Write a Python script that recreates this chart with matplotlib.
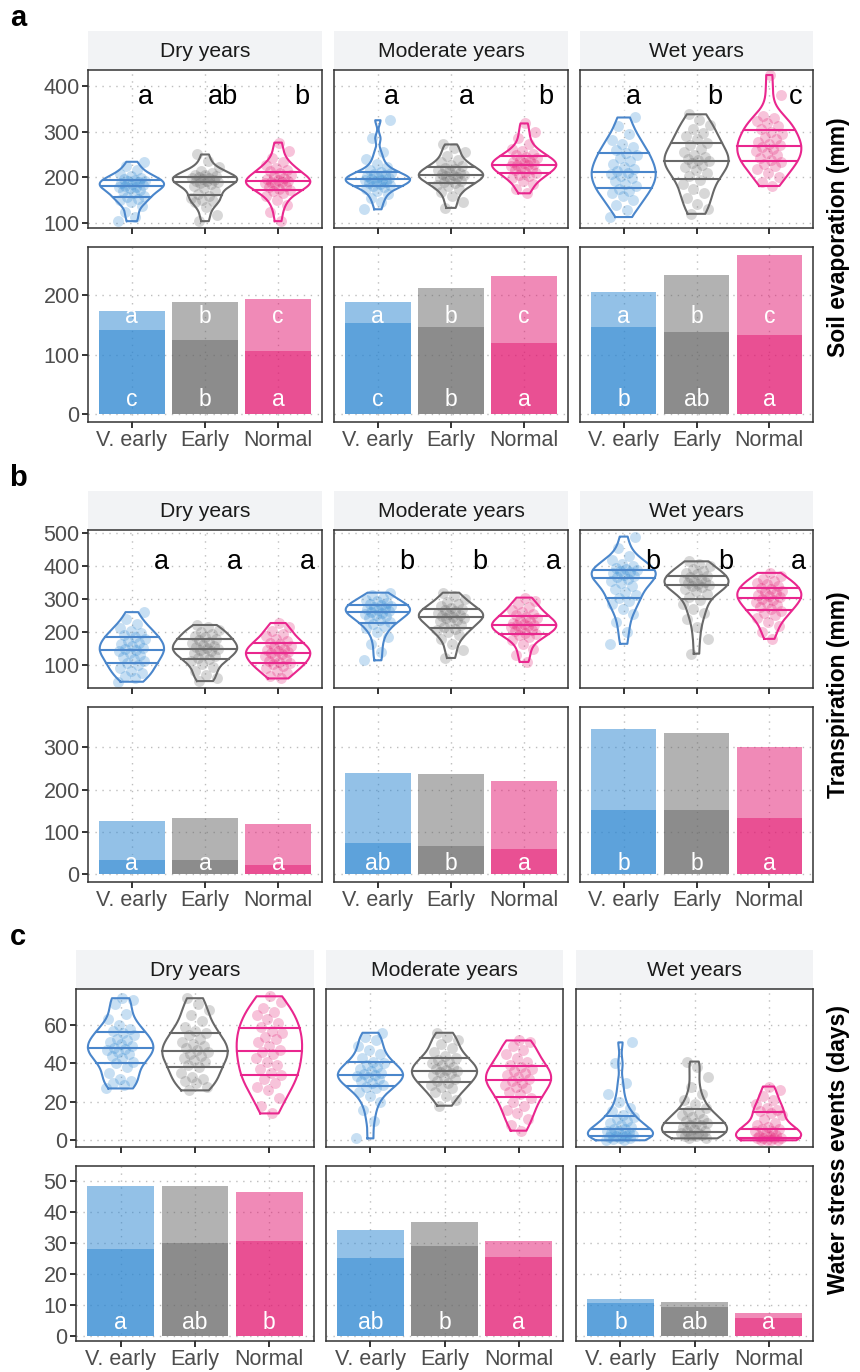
import numpy as np
import matplotlib.pyplot as plt
from matplotlib.ticker import FixedLocator

plt.rcParams['font.family'] = ['Liberation Sans', 'DejaVu Sans']

groups = ['V. early', 'Early', 'Normal']
climates = ['Dry years', 'Moderate years', 'Wet years']

# ---- soil evaporation (mm), one list per sowing group ----
evap_dry = [
    [104, 112, 125, 138, 145, 150, 153, 156, 160, 165, 170, 173, 176, 178, 179, 181, 183, 185, 187, 189, 191, 193, 195, 197, 199, 203, 208, 215, 224, 234],
    [104, 118, 135, 145, 148, 151, 155, 160, 163, 170, 177, 182, 186, 188, 189, 191, 193, 195, 196, 198, 199, 201, 202, 204, 206, 209, 214, 222, 235, 250],
    [104, 125, 140, 150, 158, 165, 170, 172, 175, 179, 182, 185, 187, 189, 190, 192, 194, 196, 199, 202, 206, 209, 213, 217, 221, 226, 233, 243, 258, 276],
]
evap_mod = [
    [130, 145, 155, 163, 170, 175, 178, 181, 184, 186, 188, 190, 192, 194, 195, 196, 198, 200, 202, 204, 207, 209, 212, 216, 222, 230, 240, 255, 285, 325],
    [133, 145, 158, 167, 174, 180, 184, 187, 190, 193, 196, 199, 201, 203, 204, 206, 208, 210, 213, 215, 218, 221, 224, 228, 233, 239, 246, 255, 264, 272],
    [165, 175, 185, 192, 198, 202, 206, 209, 212, 215, 218, 221, 224, 226, 227, 229, 231, 233, 236, 239, 242, 245, 248, 252, 257, 263, 272, 285, 300, 318],
]
evap_wet = [
    [113, 128, 140, 150, 158, 165, 170, 175, 180, 186, 192, 198, 203, 207, 210, 214, 218, 223, 229, 236, 242, 248, 254, 260, 266, 273, 282, 295, 312, 331],
    [120, 130, 142, 155, 165, 175, 185, 195, 203, 210, 217, 223, 228, 232, 235, 237, 240, 244, 249, 255, 262, 270, 276, 283, 290, 298, 306, 315, 326, 338],
    [181, 190, 200, 210, 218, 225, 230, 234, 238, 243, 248, 253, 258, 263, 266, 270, 274, 278, 283, 288, 294, 300, 306, 312, 318, 324, 330, 335, 380, 424],
]
evap_total = [[174, 188, 194], [188, 212, 232], [205, 234, 267]]
evap_lower = [[142, 125, 106], [153, 146, 119], [146, 139, 133]]
evap_violin_letters = [['a', 'ab', 'b'], ['a', 'a', 'b'], ['a', 'b', 'c']]
evap_top_letters = [['a', 'b', 'c'], ['a', 'b', 'c'], ['a', 'b', 'c']]
evap_bottom_letters = [['c', 'b', 'a'], ['c', 'b', 'a'], ['b', 'ab', 'a']]

# ---- transpiration (mm) ----
transp_dry = [
    [50, 60, 68, 76, 84, 92, 100, 106, 112, 118, 125, 131, 137, 142, 146, 149, 153, 158, 163, 168, 174, 180, 186, 192, 198, 205, 213, 224, 240, 261],
    [52, 60, 70, 82, 95, 105, 113, 118, 123, 128, 133, 138, 142, 146, 149, 151, 154, 158, 162, 166, 171, 176, 180, 185, 190, 196, 202, 208, 215, 222],
    [60, 68, 76, 84, 92, 98, 103, 106, 110, 114, 119, 124, 129, 133, 136, 139, 142, 146, 150, 154, 158, 163, 168, 173, 180, 188, 196, 205, 216, 228],
]
transp_mod = [
    [115, 140, 165, 185, 200, 212, 220, 226, 232, 238, 243, 248, 253, 256, 259, 261, 264, 267, 270, 273, 276, 279, 282, 285, 289, 294, 299, 305, 312, 320],
    [122, 145, 165, 180, 192, 200, 206, 211, 216, 222, 228, 233, 238, 242, 244, 246, 249, 252, 256, 259, 263, 266, 270, 274, 279, 285, 292, 300, 310, 320],
    [110, 130, 150, 165, 177, 185, 191, 195, 199, 203, 207, 211, 215, 218, 221, 223, 226, 229, 233, 237, 242, 246, 251, 256, 262, 268, 276, 285, 295, 305],
]
transp_wet = [
    [165, 200, 230, 255, 272, 285, 295, 303, 312, 322, 332, 341, 349, 356, 362, 367, 371, 375, 379, 382, 385, 388, 391, 395, 400, 408, 418, 432, 455, 490],
    [135, 180, 215, 240, 258, 272, 285, 297, 308, 317, 325, 331, 336, 340, 343, 346, 349, 352, 355, 358, 362, 366, 371, 376, 381, 387, 393, 400, 407, 415],
    [180, 200, 218, 232, 243, 252, 259, 265, 271, 277, 283, 288, 293, 298, 302, 306, 310, 314, 318, 322, 326, 330, 335, 340, 345, 350, 356, 362, 370, 380],
]
transp_total = [[127, 132, 120], [239, 237, 220], [343, 333, 300]]
transp_lower = [[34, 34, 22], [75, 68, 60], [153, 153, 134]]
transp_violin_letters = [['a', 'a', 'a'], ['b', 'b', 'a'], ['b', 'b', 'a']]
transp_bottom_letters = [['a', 'a', 'a'], ['ab', 'b', 'a'], ['b', 'b', 'a']]

# ---- water stress events (days) ----
stress_dry = [
    [27, 29, 30, 31, 32, 35, 38, 40, 41, 43, 44, 45, 46, 47, 47.5, 48, 49, 50, 51, 52, 53, 55, 56, 57, 58, 60, 63, 66, 71, 73, 74],
    [26, 28, 30, 31, 32, 33, 35, 38, 39, 41, 42, 43, 44, 45, 46, 47, 48, 49, 50, 51, 53, 55, 56, 57, 59, 62, 65, 68, 71, 74],
    [14, 18, 22, 26, 28, 30, 32, 34, 35, 37, 39, 41, 43, 45, 46, 47, 49, 51, 53, 54, 56, 57, 59, 61, 63, 65, 67, 69, 72, 75],
]
stress_mod = [
    [1, 10, 16, 20, 23, 25, 27, 28, 29, 30, 31, 32, 33, 33.5, 34, 34.5, 35, 36, 37, 38, 39, 40, 41, 43, 45, 47, 49, 52, 54, 56],
    [18, 21, 23, 25, 27, 28, 29, 30, 31, 32, 33, 34, 35, 35.5, 36, 36.5, 37, 38, 39, 40, 41, 42, 43, 44, 46, 48, 50, 52, 54, 56],
    [5, 8, 11, 14, 16, 18, 20, 22, 24, 25, 27, 28, 29, 30, 31, 32, 33, 34, 35, 36, 37, 38, 39, 41, 43, 45, 47, 49, 51, 52],
]
stress_wet = [
    [0, 0, 0.5, 1, 1, 1.5, 2, 2, 3, 3, 4, 4, 5, 5, 6, 6, 7, 8, 9, 10, 11, 12, 13, 15, 17, 20, 24, 30, 40, 51],
    [1, 1, 2, 2, 3, 3, 4, 4, 5, 5, 6, 7, 8, 8, 9, 9, 10, 11, 12, 13, 14, 15, 17, 19, 21, 24, 28, 33, 38, 41],
    [0, 0, 0, 0, 1, 1, 1, 1, 2, 2, 3, 4, 5, 5, 6, 6, 7, 8, 9, 11, 13, 14, 15, 16, 17, 19, 21, 23, 26, 28],
]
stress_total = [[48.6, 48.3, 46.4], [34.2, 36.7, 30.7], [11.8, 10.9, 7.3]]
stress_lower = [[28.1, 30.0, 30.8], [25.3, 29.0, 25.6], [10.6, 9.4, 5.9]]
stress_bottom_letters = [['a', 'ab', 'b'], ['ab', 'b', 'a'], ['b', 'ab', 'a']]

line_cols = ['#4A86CB', '#686868', '#E9268E']
fill_cols = ['#2985D1', '#676767', '#E31771']
pos = np.array([1, 2, 3])

W, H = 860, 1372
fig = plt.figure(figsize=(W / 100, H / 100), dpi=100)


def add_px(x0, y0, x1, y1):
    return fig.add_axes([x0 / W, 1 - y1 / H, (x1 - x0) / W, (y1 - y0) / H])


def kde(vals, grid):
    vals = np.asarray(vals, float)
    n = len(vals)
    sd = vals.std(ddof=1)
    iqr = np.subtract(*np.percentile(vals, [75, 25]))
    bw = 0.9 * min(sd, iqr / 1.34) * n ** -0.2
    z = (grid[:, None] - vals[None, :]) / bw
    return np.exp(-0.5 * z ** 2).sum(1)


def style(ax, ylim, major, minor, first, show_x):
    ax.set_xlim(0.4, 3.6)
    ax.set_ylim(*ylim)
    ax.set_xticks(pos)
    ax.set_xticklabels(groups if show_x else [])
    ax.set_yticks(major)
    ax.yaxis.set_minor_locator(FixedLocator(minor))
    ax.set_axisbelow(True)
    ax.grid(True, which='major', color='#BDBDBD', linestyle=(0, (1, 4)), lw=1.0)
    ax.grid(True, which='minor', axis='y', color='white', lw=1.3)
    ax.tick_params(which='major', length=4, width=1.4, color='#333333',
                   labelsize=15.5, labelcolor='#4D4D4D', pad=2)
    ax.tick_params(which='minor', length=0)
    if not first:
        ax.tick_params(axis='y', left=False, labelleft=False)
    for sp in ax.spines.values():
        sp.set_color('#333333')
        sp.set_linewidth(1.1)


def violin(ax, x, vals, lc, fc, k):
    vals = np.asarray(vals, float)
    grid = np.linspace(vals.min(), vals.max(), 300)
    half = kde(vals, grid)
    half = half / half.max() * 0.44
    n = len(vals)
    jit = ((np.arange(n) * 0.618034 + 0.3 * k) % 1 - 0.5) * 0.38
    ax.scatter(x + jit, vals, s=62, color=fc, alpha=0.26, lw=0, zorder=2.5)
    ax.plot(np.r_[x - half, (x + half)[::-1], x - half[0]],
            np.r_[grid, grid[::-1], grid[0]], color=lc, lw=1.5, zorder=3)
    for q in np.percentile(vals, [25, 50, 75]):
        w = np.interp(q, grid, half)
        ax.plot([x - w, x + w], [q, q], color=lc, lw=1.5, zorder=3)


def section(top, xs, tag, ylabel, label_y, vdata, vlim, vmajor, vminor,
            vletters, vletter_y, vletter_dx, totals, lowers, blim, bmajor, bminor,
            top_letters, top_y, bot_letters, bot_y):
    fig.text(18 / W, 1 - (top - 13) / H, tag, fontsize=21, fontweight='bold',
             ha='center', va='center')
    for c, (x0, x1) in enumerate(xs):
        strip = add_px(x0, top, x1, top + 39)
        strip.set_facecolor('#F2F3F5')
        strip.set_xticks([])
        strip.set_yticks([])
        for sp in strip.spines.values():
            sp.set_visible(False)
        strip.text(0.5, 0.48, climates[c], ha='center', va='center',
                   fontsize=15.2, color='#1A1A1A', transform=strip.transAxes)

        ax = add_px(x0, top + 39, x1, top + 197)
        style(ax, vlim, vmajor, vminor, c == 0, False)
        for k in range(3):
            violin(ax, pos[k], vdata[c][k], line_cols[k], fill_cols[k], k)
            if vletters is not None:
                ax.text(pos[k] + vletter_dx[c][k], vletter_y, vletters[c][k],
                        ha='center', va='center', fontsize=19.5, color='black')

        bx = add_px(x0, top + 216, x1, top + 391)
        style(bx, blim, bmajor, bminor, c == 0, True)
        bx.bar(pos, totals[c], width=0.9, color=fill_cols, alpha=0.5, lw=0, zorder=1)
        bx.bar(pos, lowers[c], width=0.9, color=fill_cols, alpha=0.5, lw=0, zorder=1)
        for k in range(3):
            if top_letters is not None:
                bx.text(pos[k], top_y, top_letters[c][k], ha='center', va='center',
                        fontsize=16.5, color='white', zorder=4)
            bx.text(pos[k], bot_y, bot_letters[c][k], ha='center', va='center',
                    fontsize=16.5, color='white', zorder=4)
    fig.text(838 / W, 1 - label_y / H, ylabel, rotation=90, ha='center', va='center',
             fontsize=16.5, fontweight='bold')


xs_ab = [(88, 322), (334, 568), (580, 813)]
xs_c = [(76, 314), (326, 563), (576, 813)]

section(31, xs_ab, 'a', 'Soil evaporation (mm)', 237,
        [evap_dry, evap_mod, evap_wet], (89, 435), [100, 200, 300, 400], [150, 250, 350],
        evap_violin_letters, 375,
        [[0.19, 0.25, 0.33], [0.19, 0.21, 0.29], [0.14, 0.25, 0.36]],
        evap_total, evap_lower, (-13, 281), [0, 100, 200], [50, 150, 250],
        evap_top_letters, 164, evap_bottom_letters, 25)

section(491, xs_ab, 'b', 'Transpiration (mm)', 695,
        [transp_dry, transp_mod, transp_wet], (31, 510), [100, 200, 300, 400, 500],
        [50, 150, 250, 350, 450],
        transp_violin_letters, 412,
        [[0.4, 0.4, 0.4], [0.4, 0.4, 0.4], [0.4, 0.4, 0.4]],
        transp_total, transp_lower, (-18, 395), [0, 100, 200, 300], [50, 150, 250, 350],
        None, 0, transp_bottom_letters, 25)

section(950, xs_c, 'c', 'Water stress events (days)', 1150,
        [stress_dry, stress_mod, stress_wet], (-3.5, 78.8), [0, 20, 40, 60], [10, 30, 50, 70],
        None, 0, None,
        stress_total, stress_lower, (-1.6, 54.9), [0, 10, 20, 30, 40, 50],
        [5, 15, 25, 35, 45],
        None, 0, stress_bottom_letters, 4.5)

fig.savefig('out.png', dpi=100)
